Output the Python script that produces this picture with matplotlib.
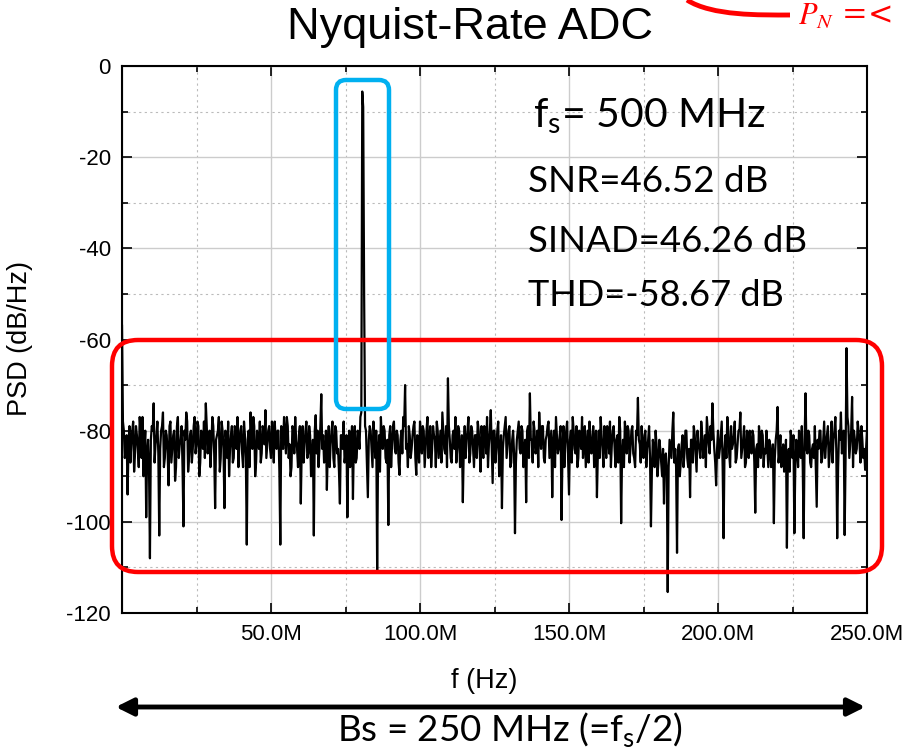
import matplotlib
matplotlib.use("Agg")
import matplotlib.pyplot as plt
import numpy as np
from matplotlib.patches import FancyBboxPatch, FancyArrowPatch, PathPatch
from matplotlib.path import Path
from matplotlib.transforms import IdentityTransform
from matplotlib.ticker import MultipleLocator, FuncFormatter

plt.rcParams['axes.unicode_minus'] = False
plt.rcParams['font.family'] = ['Liberation Sans', 'DejaVu Sans']

# PSD values, one per 0.625 MHz bin (0 .. 250 MHz)
bin_width_hz = 0.625e6
psd_on_bin = [
    -57, -80, -84, -94, -79, -83, -78, -85, -81, -88, -80, -77, -84, -99, -82, -108, -79, -74, -83, -78,
    -103, -80, -76, -86, -81, -92, -78, -84, -80, -88, -77, -83, -79, -101, -82, -78, -86, -80, -84, -77,
    -83, -79, -87, -81, -78, -74, -85, -80, -83, -79, -97, -81, -77, -86, -80, -97, -82, -78, -84, -79,
    -86, -80, -77, -83, -79, -88, -81, -105, -80, -76, -84, -79, -87, -82, -78, -85, -80, -75.5, -83, -79,
    -86, -81, -78, -84, -80, -105, -82, -77, -85, -79, -83, -88, -80, -77, -84, -81, -96, -79, -83, -78,
    -85, -81, -87, -103, -76.6, -80, -84, -72, -81, -86, -93, -79, -83, -78, -88, -80, -84, -96, -81, -78,
    -85, -99, -80, -83, -95, -79, -86, -81, -77, -5.6, -50, -80, -94.6, -79, -84, -78, -86, -110.6, -81, -77,
    -84, -80, -87, -100.7, -79, -83, -78, -85, -81, -89.7, -80, -77, -70, -83, -79, -86, -81, -78, -89.7, -82,
    -78, -85, -80, -84, -77, -83, -88, -79, -82, -78, -86, -80, -76, -84, -79, -68.5, -82, -87, -80, -77,
    -84, -80, -86, -95.7, -79, -82, -77, -85, -80, -88, -81, -78, -84, -79, -86, -80, -77, -83, -75.5, -91.5,
    -80, -84, -78, -86, -97, -81, -77, -83, -79, -87, -80, -102.5, -82, -78, -85, -80, -84, -95.7, -79, -71.8,
    -82, -78, -85, -80, -76, -84, -79, -87, -81, -78, -83, -94.6, -80, -77, -85, -81, -99.6, -79, -83, -78,
    -94, -80, -77, -84, -79, -86, -81, -77, -83, -88, -80, -78, -85, -79, -82, -94.6, -80, -77, -84, -79,
    -86, -81, -78, -83, -79, -88, -81, -77, -100.3, -82, -78, -85, -80, -84, -79, -86, -80, -72.8, -83, -79,
    -86, -80, -84, -79, -101, -82, -88, -83, -87, -84, -90, -96, -85, -115.4, -82, -86, -76, -84, -106.8, -83,
    -87, -81, -85, -80, -88, -94.6, -82, -79, -85, -80, -84, -78, -86, -81, -77, -83, -79, -74, -84, -92,
    -80, -84, -78, -103.6, -81, -77, -85, -79, -83, -78, -86, -80, -76, -84, -79, -87, -82, -80, -85, -81,
    -98, -83, -79, -86, -81, -84, -80, -88, -83, -86, -100.3, -82, -74.8, -85, -88, -83, -87, -105.7, -84, -80,
    -86, -102.5, -82, -88, -84, -79, -103.6, -71.8, -85, -81, -88, -83, -79, -96.7, -84, -80, -86, -78, -83, -79,
    -85, -78, -82, -77, -103.6, -80, -76, -84, -102.9, -61.9, -79, -83, -72.6, -80, -85, -78, -83, -79, -86, -88.6,
    -80,
]
# values half way between the bins above
psd_half_bin = [
    -78, -86, -81, -83, -87, -80, -89, -79, -84, -77, -86, -90, -80, -85, -88, -82, -80, -87, -81, -85,
    -84, -79, -88, -80, -85, -79, -87, -81, -91, -79, -86, -82, -88, -80, -76, -89, -81, -87, -79, -85,
    -78, -90, -80, -84, -86, -79, -82, -88, -77, -85, -82, -80, -89, -78, -84, -80, -86, -90, -81, -87,
    -79, -84, -88, -80, -85, -78, -86, -82, -88, -81, -77, -90, -80, -84, -87, -79, -83, -86, -80, -84,
    -78, -87, -82, -80, -89, -79, -84, -81, -77, -86, -90, -79, -85, -82, -88, -79, -84, -87, -80, -86,
    -79, -90, -82, -80, -85, -88, -79, -84, -87, -80, -84, -88, -80, -86, -79, -85, -89, -81, -84, -87,
    -81, -84, -88, -79, -82, -87, -80, -84, -76, -9, -79, -87, -82, -80, -88, -81, -80, -84, -89, -82,
    -79, -86, -82, -81, -88, -79, -84, -80, -87, -82, -85, -79, -84, -88, -81, -84, -79, -86, -81, -87,
    -81, -79, -88, -80, -86, -79, -84, -81, -88, -80, -83, -87, -80, -85, -88, -79, -86, -81, -84, -87,
    -79, -88, -81, -84, -86, -80, -87, -79, -84, -81, -86, -80, -89, -82, -79, -85, -88, -80, -84, -80,
    -87, -80, -90, -81, -84, -79, -86, -80, -88, -82, -85, -87, -80, -84, -79, -88, -82, -80, -86, -82,
    -87, -80, -84, -88, -81, -79, -86, -82, -79, -86, -80, -83, -88, -81, -84, -79, -85, -88, -80, -86,
    -82, -87, -80, -85, -88, -80, -84, -86, -79, -84, -87, -81, -84, -88, -80, -85, -86, -81, -88, -82,
    -79, -85, -88, -80, -84, -82, -87, -80, -85, -88, -81, -79, -87, -80, -85, -88, -81, -82, -87, -84,
    -81, -88, -82, -86, -89, -84, -80, -90, -82, -87, -84, -86, -89, -88, -84, -80, -87, -88, -84, -90,
    -83, -88, -80, -86, -84, -82, -87, -81, -89, -83, -86, -81, -84, -88, -80, -85, -82, -80, -87, -84,
    -86, -81, -88, -84, -86, -80, -88, -84, -81, -87, -83, -80, -86, -82, -88, -80, -86, -84, -80, -87,
    -84, -88, -82, -80, -88, -85, -84, -82, -88, -83, -86, -80, -87, -81, -86, -89, -82, -86, -89, -82,
    -81, -88, -84, -80, -86, -88, -82, -84, -80, -87, -84, -86, -88, -82, -80, -87, -82, -86, -81, -88,
    -82, -87, -80, -84, -88, -82, -85, -80, -86, -77, -86, -80, -88, -82, -84, -80, -87, -82, -84, -84,
]

psd_db = np.empty(len(psd_on_bin) + len(psd_half_bin))
psd_db[0::2] = psd_on_bin
psd_db[1::2] = psd_half_bin
freq_hz = np.arange(len(psd_db)) * bin_width_hz / 2

title = 'Nyquist-Rate ADC'
metrics = ['SNR=46.52 dB', 'SINAD=46.26 dB', 'THD=-58.67 dB']

W, H = 905, 752
fig = plt.figure(figsize=(W / 100, H / 100), dpi=100)
ax = fig.add_axes([122 / W, 1 - 613 / H, (867 - 122) / W, (613 - 66) / H])

ax.plot(freq_hz, psd_db, color='black', lw=1.6)
ax.set_xlim(0, 250e6)
ax.set_ylim(-120, 0)

ax.xaxis.set_major_locator(MultipleLocator(50e6))
ax.xaxis.set_minor_locator(MultipleLocator(25e6))
ax.yaxis.set_major_locator(MultipleLocator(20))
ax.yaxis.set_minor_locator(MultipleLocator(10))
ax.xaxis.set_major_formatter(FuncFormatter(lambda v, p: '' if v == 0 else '%.1fM' % (v / 1e6)))
ax.yaxis.set_major_formatter(FuncFormatter(lambda v, p: '%d' % v))

ax.grid(which='major', color='#cccccc', lw=1.0, ls='-')
ax.grid(which='minor', color='#bbbbbb', lw=0.8, ls=(0, (2, 3)))
ax.set_axisbelow(True)
ax.tick_params(which='both', direction='in', top=True, right=True, labelsize=16, color='black', pad=8)
ax.tick_params(which='major', length=7, width=1.2)
ax.tick_params(which='minor', length=4, width=1.2)
for s in ax.spines.values():
    s.set_linewidth(1.5)

def fp(x, y):
    return x / W, 1 - y / H

fig.text(*fp(470, 28), title, ha='center', va='center', fontsize=32.5)
fig.text(*fp(20, 339), 'PSD (dB/Hz)', ha='center', va='center', rotation=90, fontsize=19.5)
fig.text(*fp(484, 681), 'f (Hz)', ha='center', va='center', fontsize=19.5)

cal = ['Lato', 'DejaVu Sans']
fig.text(*fp(533, 116), r'f$_\mathregular{s}$= 500 MHz', ha='left', va='center', fontsize=29.5, family=cal)
for (yy, txt, fs) in zip([181, 242, 295], metrics, [26.5, 26.3, 26]):
    fig.text(*fp(528, yy), txt, ha='left', va='center', fontsize=fs, family=cal)
fig.text(*fp(510, 730), r'Bs = 250 MHz (=f$_\mathregular{s}$/2)', ha='center', va='center', fontsize=26.5, family=cal)

ident = IdentityTransform()

def box(x0, y0, x1, y1, r, color):
    p = FancyBboxPatch((x0, H - y1), x1 - x0, y1 - y0,
                       boxstyle='round,pad=0,rounding_size=%d' % r,
                       fill=False, edgecolor=color, lw=3.2, transform=ident)
    fig.add_artist(p)

box(112, 340, 882, 572, 26, '#ff0000')
box(336, 80, 389, 409, 10, '#00b0f0')

arrow = FancyArrowPatch((113, H - 707), (868, H - 707), arrowstyle='<|-|>',
                        mutation_scale=26, lw=3.5, color='black', transform=ident)
fig.add_artist(arrow)

# red callout curve at the top right
curve = Path([(687, H - 0), (712, H - 16), (760, H - 15), (790, H - 15)],
             [Path.MOVETO, Path.CURVE4, Path.CURVE4, Path.CURVE4])
fig.add_artist(PathPatch(curve, fill=False, edgecolor='#ff0000', lw=3.5, transform=ident))
fig.text(*fp(798, 16), r'$P_N$ =<', color='#ff0000', ha='left', va='center',
         fontsize=22, math_fontfamily='stix', family=['DejaVu Serif'])

fig.savefig('out.png', dpi=100)
